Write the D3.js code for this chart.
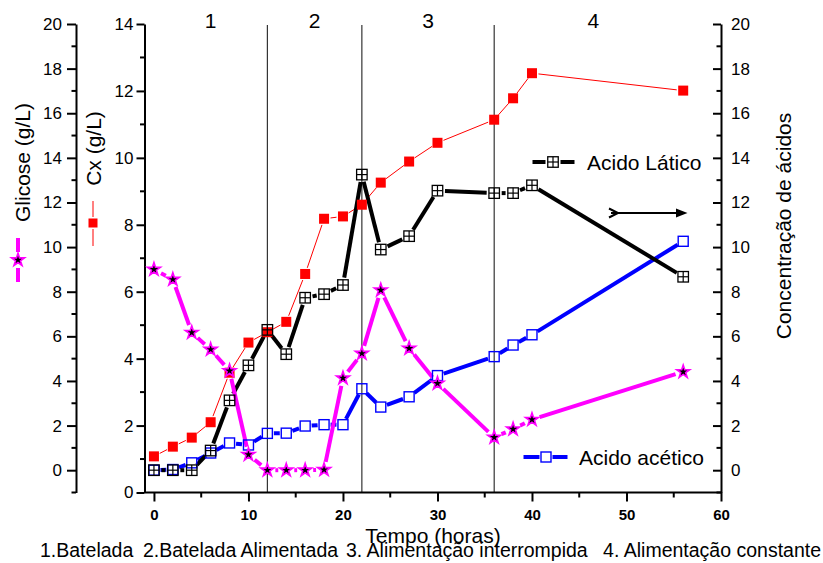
<!DOCTYPE html>
<html><head><meta charset="utf-8">
<script src="https://cdn.jsdelivr.net/npm/d3@7"></script>
<style>
body{margin:0;background:#fff}
svg{display:block}
text{font-family:"Liberation Sans",Arial,sans-serif;fill:#000}
</style>
</head><body>
<svg id="c" width="823" height="563"></svg>
<script>
// ---------- data ----------
const time     = [0,2,4,6,8,10,12,14,16,18,20,22,24,27,30,36,38,40,56];
const glicose  = [9.0,8.55,6.17,5.41,4.45,0.70,0,0,0,0.02,4.13,5.23,8.07,5.46,3.89,1.47,1.84,2.27,4.41];
const cx       = [1.08,1.37,1.64,2.10,3.58,4.48,4.79,5.10,6.53,8.18,8.25,8.60,9.26,9.89,10.45,11.14,11.78,12.53,12.01];
const lactico  = [0,0,0,0.88,3.13,4.70,6.29,5.20,7.73,7.89,8.30,13.25,9.89,10.49,12.53,12.42,12.42,12.77,8.67];
const acetico  = [0,0.03,0.33,0.77,1.22,1.13,1.65,1.66,1.98,2.04,2.04,3.65,2.83,3.29,4.24,5.09,5.61,6.07,10.26];

const phaseBounds = [12,22,36];
const phaseLabels = ["1","2","3","4"];
const phaseLabelTimes = [6,17,29,46.5];

const xTicks = [0,10,20,30,40,50,60];
const xMinor = [5,15,25,35,45,55];
const glicoseTicks = [0,2,4,6,8,10,12,14,16,18,20];
const glicoseMinor = [-1,1,3,5,7,9,11,13,15,17,19];
const cxTicks = [0,2,4,6,8,10,12,14];
const cxMinor = [1,3,5,7,9,11,13];
const acidTicks = [0,2,4,6,8,10,12,14,16,18,20];
const acidMinor = [-1,1,3,5,7,9,11,13,15,17,19];

const bottomNotes = ["1.Batelada","2.Batelada Alimentada","3. Alimentação interrompida","4. Alimentação constante"];

// ---------- scales ----------
const svg = d3.select("#c");
const x  = d3.scaleLinear().domain([-1,60]).range([144.5,721]);
const yG = d3.scaleLinear().domain([-1,20]).range([492.5,24]);
const yC = d3.scaleLinear().domain([0,14]).range([492.5,24]);
const yA = d3.scaleLinear().domain([-1,20]).range([492.5,24]);

const FONT = '"Liberation Sans",Arial,sans-serif';

function styleAxis(g, size, weight){
  g.select(".domain").attr("stroke","#000").attr("stroke-width",2);
  g.selectAll(".tick line").attr("stroke","#000").attr("stroke-width",2);
  g.selectAll(".tick text").attr("font-size",size).attr("font-family",FONT).attr("font-weight",weight||"normal").attr("fill","#000");
}

// ---------- phase lines ----------
svg.selectAll("line.phase").data(phaseBounds).enter().append("line")
  .attr("x1",d=>x(d)).attr("x2",d=>x(d)).attr("y1",25).attr("y2",492.5)
  .attr("stroke","#222").attr("stroke-width",1.1);
svg.selectAll("text.phase").data(phaseLabels).enter().append("text")
  .attr("x",(d,i)=>x(phaseLabelTimes[i])).attr("y",28)
  .attr("text-anchor","middle").attr("font-size",21).text(d=>d);

// ---------- axes ----------
// bottom
const gx = svg.append("g").attr("transform","translate(0,492.5)")
  .call(d3.axisBottom(x).tickValues(xTicks).tickSize(9).tickSizeOuter(0).tickPadding(8).tickFormat(d3.format("d")));
styleAxis(gx,15,"bold");
gx.select(".domain").attr("d","M144.5,0H721");
gx.selectAll("line.minor").data(xMinor).enter().append("line").attr("class","minor")
  .attr("x1",d=>x(d)).attr("x2",d=>x(d)).attr("y1",0).attr("y2",5).attr("stroke","#000").attr("stroke-width",2);

// glucose axis
const gG = svg.append("g").attr("transform","translate(76,0)")
  .call(d3.axisLeft(yG).tickValues(glicoseTicks).tickSize(9).tickSizeOuter(0).tickPadding(5));
styleAxis(gG,17);
gG.selectAll("line.minor").data(glicoseMinor).enter().append("line").attr("class","minor")
  .attr("x1",0).attr("x2",-4.5).attr("y1",d=>yG(d)).attr("y2",d=>yG(d)).attr("stroke","#000").attr("stroke-width",2);

// Cx axis
const gC = svg.append("g").attr("transform","translate(144.5,0)")
  .call(d3.axisLeft(yC).tickValues(cxTicks).tickSize(8).tickSizeOuter(0).tickPadding(3));
styleAxis(gC,17);
gC.selectAll("line.minor").data(cxMinor).enter().append("line").attr("class","minor")
  .attr("x1",0).attr("x2",-4.5).attr("y1",d=>yC(d)).attr("y2",d=>yC(d)).attr("stroke","#000").attr("stroke-width",2);

// acids axis (right)
const gA = svg.append("g").attr("transform","translate(721,0)")
  .call(d3.axisRight(yA).tickValues(acidTicks).tickSizeInner(-8).tickSizeOuter(0).tickPadding(10));
styleAxis(gA,17);
gA.selectAll("line.minor").data(acidMinor).enter().append("line").attr("class","minor")
  .attr("x1",0).attr("x2",-4.5).attr("y1",d=>yA(d)).attr("y2",d=>yA(d)).attr("stroke","#000").attr("stroke-width",2);

// ---------- axis titles ----------
svg.append("text").attr("transform","translate(30,162.5) rotate(-90)").attr("text-anchor","middle")
  .attr("font-size",21).text("Glicose (g/L)");
svg.append("text").attr("transform","translate(101,148.5) rotate(-90)").attr("text-anchor","middle")
  .attr("font-size",21).text("Cx (g/L)");
svg.append("text").attr("transform","translate(791,226) rotate(-90)").attr("text-anchor","middle")
  .attr("font-size",21).text("Concentração de ácidos");
svg.append("text").attr("x",433).attr("y",543).attr("text-anchor","middle")
  .attr("font-size",21).text("Tempo (horas)");

const noteX = [40,143,346];
bottomNotes.forEach((t,i)=>{
  const el = svg.append("text").attr("y",556.5).attr("font-size",19.5).text(t);
  if(i<3) el.attr("x",noteX[i]); else el.attr("x",821).attr("text-anchor","end");
});

// ---------- helpers ----------
function gapLines(g, pts, gap, color, width){
  for(let i=0;i<pts.length-1;i++){
    const [x1,y1]=pts[i],[x2,y2]=pts[i+1];
    const dx=x2-x1, dy=y2-y1, L=Math.hypot(dx,dy);
    if(L<=2*gap) continue;
    const ux=dx/L, uy=dy/L;
    g.append("line").attr("x1",x1+ux*gap).attr("y1",y1+uy*gap)
      .attr("x2",x2-ux*gap).attr("y2",y2-uy*gap)
      .attr("stroke",color).attr("stroke-width",width).attr("stroke-linecap","butt");
  }
}
const starPath = d3.symbol().type(d3.symbolStar).size(52)();
function star(g,cxp,cyp){
  g.append("path").attr("d",starPath).attr("transform",`translate(${cxp},${cyp})`)
    .attr("fill","#000").attr("stroke","#ff00ff").attr("stroke-width",1.6).attr("stroke-linejoin","miter");
}
function redSq(g,cxp,cyp,s){
  s=s||10;
  g.append("rect").attr("x",cxp-s/2).attr("y",cyp-s/2).attr("width",s).attr("height",s).attr("fill","#ff0000");
}
function blueSq(g,cxp,cyp){
  g.append("rect").attr("x",cxp-5).attr("y",cyp-5).attr("width",10).attr("height",10)
    .attr("fill","none").attr("stroke","#0000ff").attr("stroke-width",1.4);
}
function crossSq(g,cxp,cyp){
  const s=10.5;
  g.append("rect").attr("x",cxp-s/2).attr("y",cyp-s/2).attr("width",s).attr("height",s)
    .attr("fill","none").attr("stroke","#000").attr("stroke-width",1.3);
  g.append("line").attr("x1",cxp).attr("x2",cxp).attr("y1",cyp-s/2).attr("y2",cyp+s/2).attr("stroke","#000").attr("stroke-width",1.2);
  g.append("line").attr("x1",cxp-s/2).attr("x2",cxp+s/2).attr("y1",cyp).attr("y2",cyp).attr("stroke","#000").attr("stroke-width",1.2);
}

// ---------- series ----------
const ptsC = time.map((t,i)=>[x(t),yC(cx[i])]);
const ptsL = time.map((t,i)=>[x(t),yA(lactico[i])]);
const ptsA = time.map((t,i)=>[x(t),yA(acetico[i])]);
const ptsG = time.map((t,i)=>[x(t),yG(glicose[i])]);

const lines = svg.append("g");
gapLines(lines, ptsC, 6.5, "#ff0000", 1);
gapLines(lines, ptsA, 6.5, "#0000ff", 4);
gapLines(lines, ptsL, 7.5, "#000", 4);
gapLines(lines, ptsG, 8, "#ff00ff", 4);

const marks = svg.append("g");
ptsC.forEach(p=>redSq(marks,p[0],p[1]));
ptsA.forEach(p=>blueSq(marks,p[0],p[1]));
ptsL.forEach(p=>crossSq(marks,p[0],p[1]));
ptsG.forEach(p=>star(marks,p[0],p[1]));

// ---------- legends ----------
const lg = svg.append("g");
// glucose (left, vertical)
gapLines(lg, [[18,230],[18,260],[18,290]], 8, "#ff00ff", 4);
star(lg,18,260);
// Cx (left, vertical)
gapLines(lg, [[93,195],[93,223],[93,252]], 6, "#ff0000", 1);
redSq(lg,93,223,9);
// Acido Lático
gapLines(lg, [[525,162],[553,162],[582,162]], 7.5, "#000", 4);
crossSq(lg,553,162);
lg.append("text").attr("x",587).attr("y",170).attr("font-size",21).text("Acido Lático");
// Acido acético
gapLines(lg, [[517,457],[546,457],[574,457]], 6.5, "#0000ff", 4);
blueSq(lg,546,457);
lg.append("text").attr("x",579).attr("y",464.5).attr("font-size",21).text("Acido acético");
// arrow
lg.append("line").attr("x1",611).attr("x2",679).attr("y1",213).attr("y2",213).attr("stroke","#000").attr("stroke-width",2);
lg.append("path").attr("d","M609,208.5L618,213L609,217.5").attr("fill","none").attr("stroke","#000").attr("stroke-width",2);
lg.append("path").attr("d","M676,208.5L687.5,213L676,217.5Z").attr("fill","#000");
</script>
</body></html>
